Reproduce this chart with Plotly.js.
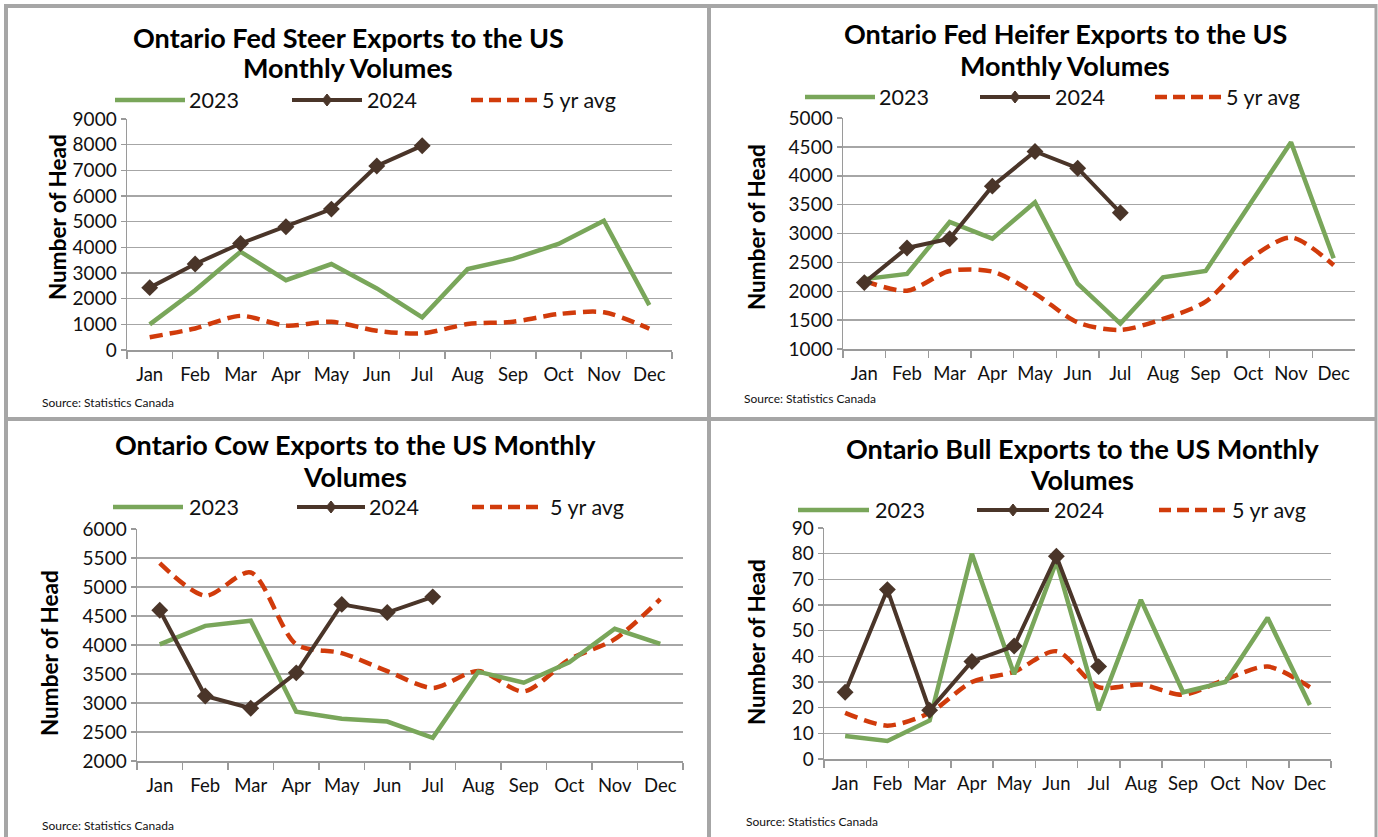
<!DOCTYPE html>
<html>
<head>
<meta charset="utf-8">
<script src="https://cdn.plot.ly/plotly-3.0.1.min.js"></script>
<style>
  html, body { margin: 0; padding: 0; background: #ffffff; }
  #chart { width: 1378px; height: 837px; }
</style>
</head>
<body>
<div id="chart"></div>
<script>
// ---------------- DATA ----------------
const months = ['Jan','Feb','Mar','Apr','May','Jun','Jul','Aug','Sep','Oct','Nov','Dec'];
const months2024 = ['Jan','Feb','Mar','Apr','May','Jun','Jul'];
const seriesNames = ['2023', '2024', '5 yr avg'];

const steer2023 = [1000, 2330, 3830, 2720, 3350, 2400, 1270, 3150, 3550, 4130, 5040, 1750];
const steer2024 = [2430, 3350, 4150, 4800, 5490, 7170, 7960];
const steerAvg  = [500, 840, 1330, 950, 1100, 750, 650, 1010, 1100, 1400, 1470, 830];

const heifer2023 = [2210, 2300, 3200, 2910, 3540, 2130, 1440, 2240, 2350, 3470, 4580, 2570];
const heifer2024 = [2150, 2750, 2910, 3820, 4420, 4130, 3360];
const heiferAvg  = [2180, 2010, 2350, 2340, 1960, 1460, 1330, 1520, 1820, 2540, 2930, 2450];

const cow2023 = [4010, 4330, 4420, 2850, 2730, 2680, 2400, 3540, 3350, 3700, 4280, 4020];
const cow2024 = [4600, 3120, 2910, 3520, 4700, 4560, 4830];
const cowAvg  = [5410, 4850, 5250, 4010, 3860, 3550, 3260, 3550, 3200, 3750, 4100, 4790];

const bull2023 = [9, 7, 15, 80, 33, 77, 19, 62, 26, 30, 55, 21];
const bull2024 = [26, 66, 19, 38, 44, 79, 36];
const bullAvg  = [18, 13, 18, 30, 34, 42, 28, 29, 25, 31, 36, 28];

const chartTitles = [
  ['Ontario Fed Steer Exports to the US', 'Monthly Volumes'],
  ['Ontario Fed Heifer Exports to the US', 'Monthly Volumes'],
  ['Ontario Cow Exports to the US Monthly', 'Volumes'],
  ['Ontario Bull Exports to the US Monthly', 'Volumes']
];
const yTitle = 'Number of Head';
const sourceText = 'Source: Statistics Canada';

// ---------------- STYLE ----------------
const W = 1378, H = 837;
const px = x => x / W;
const py = y => 1 - y / H;
const FONT = 'Lato, "Open Sans", sans-serif';
const C2023 = '#79a65a';
const C2024 = '#4a3529';
const CAVG  = '#d13b0b';
const GRID  = '#a6a6a6';
const AXIS  = '#9a9a9a';
const BORDER = '#a6a6a6';

const panels = [
  { d: [steer2023, steer2024, steerAvg], xd: [127, 672], yd: [350, 119], yr: [0, 9000], dt: 1000,
    title: [348, 37, 68], ytitle: [57, 217], source: [40, 402], legY: 100,
    leg: [[115, 185, 187], [292, 362, 365], [471, 538, 540]] },
  { d: [heifer2023, heifer2024, heiferAvg], xd: [843, 1355], yd: [349, 118], yr: [1000, 5000], dt: 500,
    title: [1065, 34, 66], ytitle: [756, 227], source: [742, 398], legY: 97,
    leg: [[805, 875, 877], [980, 1050, 1053], [1155, 1222, 1224]] },
  { d: [cow2023, cow2024, cowAvg], xd: [137, 683], yd: [761, 529], yr: [2000, 6000], dt: 500,
    title: [355, 445, 476], ytitle: [49, 653], source: [40, 825], legY: 507,
    leg: [[113, 183, 187], [297, 365, 367], [472, 542, 548]] },
  { d: [bull2023, bull2024, bullAvg], xd: [824, 1331], yd: [759, 528], yr: [0, 90], dt: 10,
    title: [1082, 448, 479], ytitle: [756, 642], source: [744, 821], legY: 510,
    leg: [[798, 869, 873], [977, 1049, 1052], [1159, 1228, 1230]] }
];

const styles = [
  { line: { color: C2023, width: 4.5 }, mode: 'lines' },
  { line: { color: C2024, width: 4 }, mode: 'lines+markers', marker: { symbol: 'diamond', size: 13, color: C2024 } },
  { line: { color: CAVG, width: 4.5, dash: '13px,7px', shape: 'spline', smoothing: 0.8 }, mode: 'lines' }
];

const traces = [];
const layout = {
  width: W, height: H,
  margin: { l: 0, r: 0, t: 0, b: 0 },
  paper_bgcolor: '#ffffff', plot_bgcolor: 'rgba(0,0,0,0)',
  showlegend: false,
  font: { family: FONT, color: '#111111' },
  shapes: [], annotations: []
};

panels.forEach((p, i) => {
  const n = i === 0 ? '' : String(i + 1);
  const xa = 'x' + n, ya = 'y' + n;
  p.d.forEach((vals, s) => {
    const st = styles[s];
    const t = {
      type: 'scatter', x: s === 1 ? months2024 : months, y: vals,
      name: seriesNames[s], xaxis: xa, yaxis: ya,
      mode: st.mode, line: st.line, hoverinfo: 'skip'
    };
    if (st.marker) t.marker = st.marker;
    traces.push(t);
  });
  layout['xaxis' + n] = {
    domain: [px(p.xd[0]), px(p.xd[1])], anchor: ya,
    type: 'category', categoryorder: 'array', categoryarray: months,
    range: [-0.5, 11.5], tickson: 'boundaries', tickangle: 0,
    ticks: 'outside', ticklen: 7, tickwidth: 1.5, tickcolor: AXIS,
    showline: true, linecolor: AXIS, linewidth: 1.5,
    showgrid: false, zeroline: false, fixedrange: true,
    tickfont: { family: FONT, size: 18.5, color: '#111' },
    ticklabelstandoff: 7
  };
  layout['yaxis' + n] = {
    domain: [py(p.yd[0]), py(p.yd[1])], anchor: xa,
    range: p.yr, dtick: p.dt, tick0: p.yr[0],
    ticks: 'outside', ticklen: 5, tickwidth: 1.5, tickcolor: AXIS,
    showline: true, linecolor: AXIS, linewidth: 1.5,
    showgrid: true, gridcolor: GRID, gridwidth: 1.5,
    zeroline: false, fixedrange: true,
    tickfont: { family: FONT, size: 19, color: '#111' }
  };
  chartTitles[i].forEach((line, k) => {
    layout.annotations.push({
      xref: 'paper', yref: 'paper', x: px(p.title[0]), y: py(p.title[1 + k]),
      xanchor: 'center', yanchor: 'middle', showarrow: false,
      text: line, align: 'center',
      font: { family: FONT, size: 27, weight: 'bold', color: '#000' }
    });
  });
  layout.annotations.push({
    xref: 'paper', yref: 'paper', x: px(p.ytitle[0]), y: py(p.ytitle[1]),
    xanchor: 'center', yanchor: 'middle', showarrow: false, textangle: -90,
    text: yTitle, font: { family: FONT, size: 22.5, weight: 'bold', color: '#000' }
  });
  layout.annotations.push({
    xref: 'paper', yref: 'paper', x: px(p.source[0]), y: py(p.source[1]),
    xanchor: 'left', yanchor: 'middle', showarrow: false,
    text: sourceText, font: { family: FONT, size: 12, color: '#111' }
  });
  p.leg.forEach((l, s) => {
    const st = styles[s];
    layout.shapes.push({
      type: 'line', xref: 'paper', yref: 'paper',
      x0: px(l[0]), x1: px(l[1]), y0: py(p.legY), y1: py(p.legY),
      line: { color: st.line.color, width: st.line.width, dash: s === 2 ? '12px,6px' : 'solid' }
    });
    if (s === 1) {
      const cx = (l[0] + l[1]) / 2, cy = p.legY, r = 6;
      layout.shapes.push({
        type: 'path', xref: 'paper', yref: 'paper',
        path: `M ${px(cx)} ${py(cy - r)} L ${px(cx + r * 0.8)} ${py(cy)} L ${px(cx)} ${py(cy + r)} L ${px(cx - r * 0.8)} ${py(cy)} Z`,
        fillcolor: st.line.color, line: { color: st.line.color, width: 1 }
      });
    }
    layout.annotations.push({
      xref: 'paper', yref: 'paper', x: px(l[2]), y: py(p.legY),
      xanchor: 'left', yanchor: 'middle', showarrow: false,
      text: seriesNames[s], font: { family: FONT, size: 21.5, color: '#111' }
    });
  });
});

const bl = (x0, y0, x1, y1, w) => layout.shapes.push({
  type: 'line', xref: 'paper', yref: 'paper', layer: 'above',
  x0: px(x0), y0: py(y0), x1: px(x1), y1: py(y1),
  line: { color: BORDER, width: w }
});
bl(4, 6, 1377, 6, 4);
bl(6, 4, 6, 845, 4);
bl(1376, 4, 1376, 845, 3);
bl(709, 4, 709, 845, 4);
bl(4, 419, 1377, 419, 4);

const ordered = [];
for (let i = 0; i < 4; i++) {
  ordered.push(traces[i * 3 + 2], traces[i * 3], traces[i * 3 + 1]);
}

Plotly.newPlot('chart', ordered, layout, { staticPlot: true, displayModeBar: false });
</script>
</body>
</html>
